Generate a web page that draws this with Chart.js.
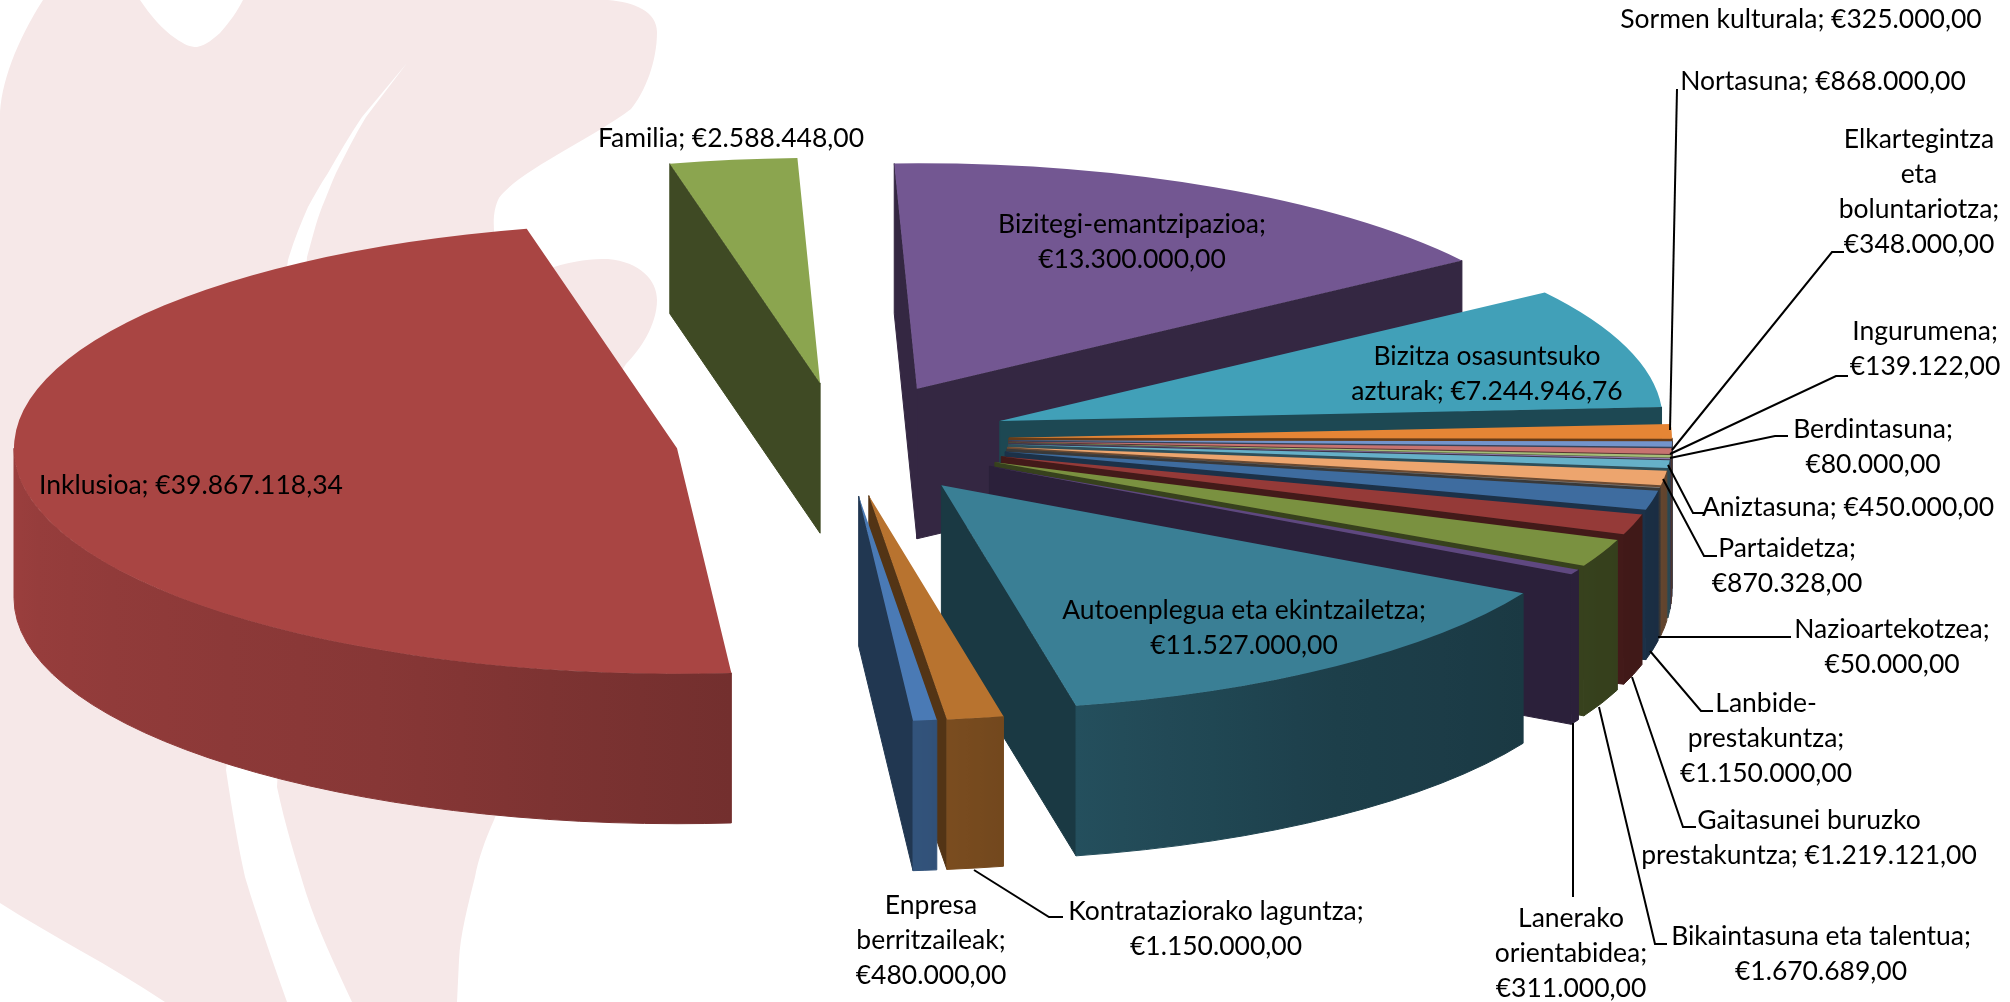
<!DOCTYPE html>
<html>
<head>
<meta charset="utf-8">
<style>
  html, body { margin: 0; padding: 0; background: #fff; overflow: hidden; }
  #wrap { position: relative; width: 2010px; height: 1002px; }
  #wrap svg, #wrap canvas { position: absolute; left: 0; top: 0; }
</style>
<script src="https://cdn.jsdelivr.net/npm/chart.js@4/dist/chart.umd.js"></script>
</head>
<body>
<div id="wrap">
  <svg width="2010" height="1002" viewBox="0 0 2010 1002">
    <path fill="#F6E8E8" d="M0 117 C0 85 17 40 43 0 L140 0 C150 15 163 30 175 38 C185 45 190 47 197 47 C207 45 214 38 220 33 C230 22 238 10 243 0 L608 0 C635 2 657 12 657 32 C657 62 645 92 631 109 C590 140 520 170 499 198 C490 215 494 240 500 268 L551 268 C575 260 592 259 608 259 C640 262 657 280 657 300 C657 325 640 350 626 364 L590 420 L540 700 L494 820 C485 840 478 860 475 877 C468 905 460 935 459 960 L457 1002 L165 1002 C110 965 50 935 0 903 Z"/>
    <path fill="#FFFFFF" d="M407 63 L362 117 C350 135 338 155 328 173 C320 185 314 196 308 207 C300 225 293 243 288 260 L226 770 C232 810 238 845 245 877 C258 920 272 960 287 1002 L352 1002 C335 965 318 930 306 893 C296 860 285 825 277 787 L307 257 C312 240 316 222 322 207 C327 195 331 184 336 173 C345 155 355 135 366 117 Z"/>
  </svg>
  <canvas id="pieChart" width="2010" height="1002"></canvas>
</div>
<script>
const categories = ['Inklusioa', 'Familia', 'Bizitegi-emantzipazioa', 'Bizitza osasuntsuko azturak',
    'Nortasuna', 'Sormen kulturala', 'Elkartegintza eta boluntariotza', 'Ingurumena', 'Berdintasuna',
    'Aniztasuna', 'Partaidetza', 'Nazioartekotzea', 'Lanbide-prestakuntza', 'Gaitasunei buruzko prestakuntza',
    'Bikaintasuna eta talentua', 'Lanerako orientabidea', 'Autoenplegua eta ekintzailetza',
    'Kontratazio' + 'rako laguntza', 'Enpresa berritzaileak'];
const amounts = [39867118.34, 2588448, 13300000, 7244946.76, 868000, 325000, 348000, 139122, 80000,
    450000, 870328, 50000, 1150000, 1219121, 1670689, 311000, 11527000, 1150000, 480000];
const sliceColors = ['#A94543', '#8BA54F', '#735792', '#41A0B8', '#E58535', '#7394CB', '#C77370', '#A4BC78',
    '#8F78AA', '#66B0C8', '#EDA56E', '#7F7F7F', '#3E6C9F', '#953A38', '#7A9140', '#5F4880', '#3A7F95',
    '#B8732F', '#4A7AB5'];
const labelLines = [
    ['Inklusioa; €39.867.118,34'],
    ['Familia; €2.588.448,00'],
    ['Bizitegi-emantzipazioa;', '€13.300.000,00'],
    ['Bizitza osasuntsuko', 'azturak; €7.244.946,76'],
    ['Nortasuna; €868.000,00'],
    ['Sormen kulturala; €325.000,00'],
    ['Elkartegintza', 'eta', 'boluntariotza;', '€348.000,00'],
    ['Ingurumena;', '€139.122,00'],
    ['Berdintasuna;', '€80.000,00'],
    ['Aniztasuna; €450.000,00'],
    ['Partaidetza;', '€870.328,00'],
    ['Nazioartekotzea;', '€50.000,00'],
    ['Lanbide-', 'prestakuntza;', '€1.150.000,00'],
    ['Gaitasunei buruzko', 'prestakuntza; €1.219.121,00'],
    ['Bikaintasuna eta talentua;', '€1.670.689,00'],
    ['Lanerako', 'orientabidea;', '€311.000,00'],
    ['Autoenplegua eta ekintzailetza;', '€11.527.000,00'],
    ['Kontratazio' + 'rako laguntza;', '€1.150.000,00'],
    ['Enpresa', 'berritzaileak;', '€480.000,00']
];
// label centre x and first line y, same order as categories
const labelX = [191, 731, 1132, 1487, 1823, 1801, 1919, 1925, 1873, 1848, 1787, 1892, 1766, 1809, 1821, 1571, 1244, 1216, 931];
const labelY = [485, 138, 224, 356, 81, 19, 139, 331, 429, 507, 548, 629, 703, 820, 936, 918, 610, 911, 905];
// leader lines, null when the label sits without one
const leaders = [null, null, null, null,
    [[1677, 89], [1670, 430]],
    null,
    [[1844, 252], [1832, 252], [1672, 450]],
    [[1848, 376], [1836, 376], [1670, 454]],
    [[1788, 436], [1775, 436], [1670, 458]],
    [[1704, 513], [1693, 513], [1668, 465]],
    [[1717, 556], [1704, 556], [1663, 479]],
    [[1791, 637], [1658, 637]],
    [[1713, 711], [1701, 711], [1650, 651]],
    [[1696, 827], [1683, 827], [1632, 677]],
    [[1667, 944], [1655, 944], [1599, 707]],
    [[1573, 897], [1573, 723]],
    null,
    [[1063, 917], [1049, 917], [974, 870]],
    null];

const pieX = 842, pieY = 439.5, squash = 0.34, depth = 150, explode = 167;

// wall brightness by angle round the near half of the pie
const lightAngles = [0, 28, 55, 78, 85, 116, 180];
const lightLevels = [0.40, 0.45, 0.50, 0.62, 0.68, 0.80, 0.92];

function shade(hex, f) {
    const n = parseInt(hex.slice(1), 16);
    return 'rgb(' + Math.round((n >> 16) * f) + ',' + Math.round(((n >> 8) & 255) * f) + ',' + Math.round((n & 255) * f) + ')';
}

function wallFactor(angle) {
    const a = ((angle % 360) + 360) % 360;
    for (let i = 1; i < lightAngles.length; i++) {
        if (a <= lightAngles[i]) {
            const t = (a - lightAngles[i - 1]) / (lightAngles[i] - lightAngles[i - 1]);
            return lightLevels[i - 1] + t * (lightLevels[i] - lightLevels[i - 1]);
        }
    }
    return lightLevels[lightLevels.length - 1];
}

const pie3d = {
    id: 'pie3d',
    beforeDatasetDraw(chart) {
        const ctx = chart.ctx;
        const meta = chart.getDatasetMeta(0);
        const arcs = meta.data.map((arc, i) => ({ arc, i, mid: (arc.startAngle + arc.endAngle) / 2 }));
        arcs.sort((a, b) => Math.sin(a.mid) - Math.sin(b.mid));
        ctx.lineWidth = 1;

        arcs.forEach(({ arc, i, mid }) => {
            const color = sliceColors[i];
            const s = arc.startAngle, e = arc.endAngle, r = arc.outerRadius;
            const ax = pieX + explode * Math.cos(mid);
            const ay = pieY + explode * Math.sin(mid) * squash;
            const radial = a => [ax + r * Math.cos(a), ay + r * squash * Math.sin(a)];
            const face = a => {
                const p = radial(a);
                ctx.fillStyle = ctx.strokeStyle = shade(color, 0.45);
                ctx.beginPath();
                ctx.moveTo(ax, ay);
                ctx.lineTo(p[0], p[1]);
                ctx.lineTo(p[0], p[1] + depth);
                ctx.lineTo(ax, ay + depth);
                ctx.closePath();
                ctx.fill();
                ctx.stroke();
            };
            if (Math.cos(s) < 0) face(s);
            if (Math.cos(e) > 0) face(e);

            // outer wall, only the part on the near half of the ellipse
            for (let turn = 0; turn <= 2; turn += 2) {
                const a0 = Math.max(s, turn * Math.PI);
                const a1 = Math.min(e, (turn + 1) * Math.PI);
                if (a1 <= a0) continue;
                const x0 = ax + r * Math.cos(a1), x1 = ax + r * Math.cos(a0);
                const grad = ctx.createLinearGradient(x0, 0, Math.max(x1, x0 + 1), 0);
                for (let t = 0; t <= 12; t++) {
                    const a = a1 + (a0 - a1) * t / 12;
                    const pos = (ax + r * Math.cos(a) - x0) / Math.max(x1 - x0, 1);
                    grad.addColorStop(Math.min(Math.max(pos, 0), 1), shade(color, wallFactor(a * 180 / Math.PI)));
                }
                ctx.fillStyle = ctx.strokeStyle = grad;
                ctx.beginPath();
                ctx.ellipse(ax, ay, r, r * squash, 0, a0, a1);
                ctx.ellipse(ax, ay + depth, r, r * squash, 0, a1, a0, true);
                ctx.closePath();
                ctx.fill();
                ctx.stroke();
            }

            // top of the slice, drawn by the library's own arc element
            ctx.save();
            ctx.translate(ax, ay);
            ctx.scale(1, squash);
            ctx.translate(-arc.x, -arc.y);
            arc.draw(ctx);
            ctx.restore();
        });
        return false;
    },
    afterDraw(chart) {
        const ctx = chart.ctx;
        ctx.save();
        ctx.strokeStyle = '#000';
        ctx.lineWidth = 2;
        leaders.forEach(line => {
            if (!line) return;
            ctx.beginPath();
            line.forEach((p, j) => j ? ctx.lineTo(p[0], p[1]) : ctx.moveTo(p[0], p[1]));
            ctx.stroke();
        });
        ctx.fillStyle = '#000';
        ctx.font = '26.5px Lato';
        ctx.textAlign = 'center';
        ctx.textBaseline = 'middle';
        labelLines.forEach((lines, i) => {
            lines.forEach((txt, j) => ctx.fillText(txt, labelX[i], labelY[i] + j * 35));
        });
        ctx.restore();
    }
};

new Chart(document.getElementById('pieChart').getContext('2d'), {
    type: 'pie',
    data: {
        labels: categories,
        datasets: [{ data: amounts, backgroundColor: sliceColors, borderWidth: 0 }]
    },
    options: {
        responsive: false,
        animation: false,
        rotation: 175.3,
        radius: 663,
        events: [],
        plugins: { legend: { display: false }, tooltip: { enabled: false } }
    },
    plugins: [pie3d]
});
</script>
</body>
</html>
